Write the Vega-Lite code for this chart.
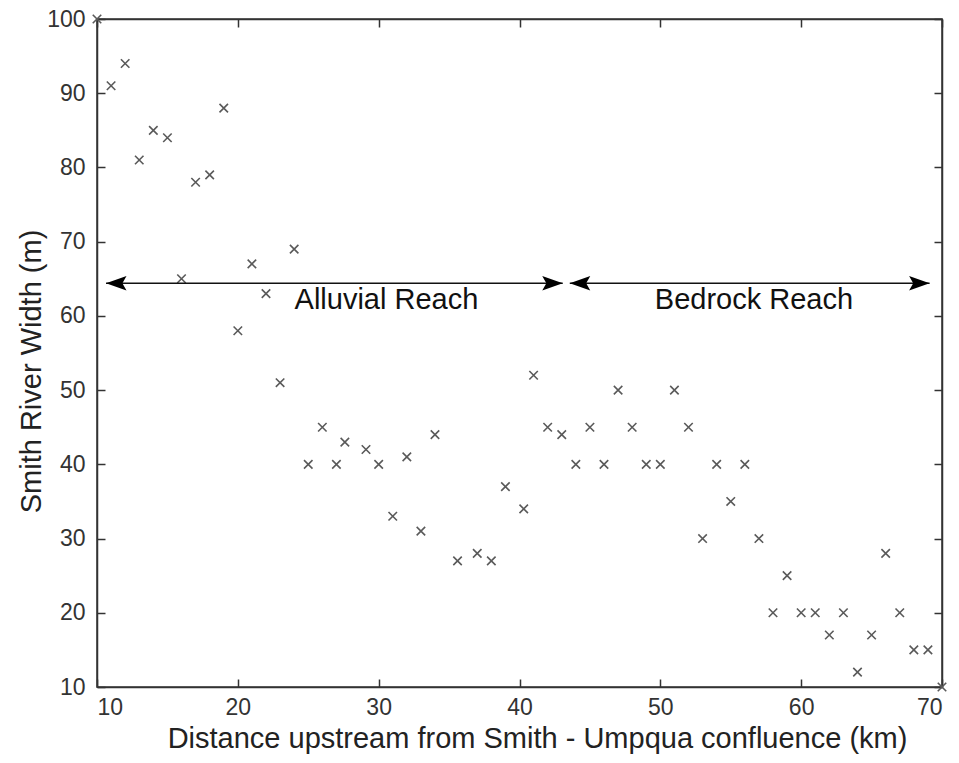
{
  "$schema": "https://vega.github.io/schema/vega-lite/v6.json",
  "width": 845,
  "height": 668,
  "autosize": {"type": "none"},
  "padding": {"left": 97, "top": 19, "right": 17, "bottom": 76},
  "background": "white",
  "config": {
    "font": "Liberation Sans",
    "view": {"stroke": "#333333", "strokeWidth": 1.5},
    "axis": {
      "grid": false,
      "domainColor": "#333333",
      "domainWidth": 1.5,
      "tickColor": "#333333",
      "tickWidth": 1.5,
      "tickSize": -8,
      "labelFont": "Liberation Sans",
      "labelFontSize": 23,
      "labelColor": "#333333",
      "titleFont": "Liberation Sans",
      "titleFontSize": 29,
      "titleFontWeight": "normal",
      "titleColor": "#222222"
    }
  },
  "datasets": {
    "pts": [
      {"d": 10, "w": 100}, {"d": 11, "w": 91}, {"d": 12, "w": 94}, {"d": 13, "w": 81},
      {"d": 14, "w": 85}, {"d": 15, "w": 84}, {"d": 16, "w": 65}, {"d": 17, "w": 78},
      {"d": 18, "w": 79}, {"d": 19, "w": 88}, {"d": 20, "w": 58}, {"d": 21, "w": 67},
      {"d": 22, "w": 63}, {"d": 23, "w": 51}, {"d": 24, "w": 69}, {"d": 25, "w": 40},
      {"d": 26, "w": 45}, {"d": 27, "w": 40}, {"d": 27.6, "w": 43}, {"d": 29.1, "w": 42},
      {"d": 30, "w": 40}, {"d": 31, "w": 33}, {"d": 32, "w": 41}, {"d": 33, "w": 31},
      {"d": 34, "w": 44}, {"d": 35.6, "w": 27}, {"d": 37, "w": 28}, {"d": 38, "w": 27},
      {"d": 39, "w": 37}, {"d": 40.3, "w": 34}, {"d": 41, "w": 52}, {"d": 42, "w": 45},
      {"d": 43, "w": 44}, {"d": 44, "w": 40}, {"d": 45, "w": 45}, {"d": 46, "w": 40},
      {"d": 47, "w": 50}, {"d": 48, "w": 45}, {"d": 49, "w": 40}, {"d": 50, "w": 40},
      {"d": 51, "w": 50}, {"d": 52, "w": 45}, {"d": 53, "w": 30}, {"d": 54, "w": 40},
      {"d": 55, "w": 35}, {"d": 56, "w": 40}, {"d": 57, "w": 30}, {"d": 58, "w": 20},
      {"d": 59, "w": 25}, {"d": 60, "w": 20}, {"d": 61, "w": 20}, {"d": 62, "w": 17},
      {"d": 63, "w": 20}, {"d": 64, "w": 12}, {"d": 65, "w": 17}, {"d": 66, "w": 28},
      {"d": 67, "w": 20}, {"d": 68, "w": 15}, {"d": 69, "w": 15}, {"d": 70, "w": 10}
    ],
    "arrows": [
      {"d": 10.64, "d2": 43.07, "w": 64.4},
      {"d": 43.57, "d2": 69.12, "w": 64.4}
    ],
    "heads": [
      {"d": 10.64, "w": 64.4, "dir": "left"},
      {"d": 43.07, "w": 64.4, "dir": "right"},
      {"d": 43.57, "w": 64.4, "dir": "left"},
      {"d": 69.12, "w": 64.4, "dir": "right"}
    ],
    "labels": [
      {"d": 30.55, "w": 60.9, "t": "Alluvial Reach"},
      {"d": 56.65, "w": 60.9, "t": "Bedrock Reach"}
    ]
  },
  "resolve": {"axis": {"x": "independent", "y": "independent"}},
  "layer": [
    {
      "data": {"name": "pts"},
      "mark": {
        "type": "point",
        "shape": "M-1,-1L1,1M-1,1L1,-1",
        "filled": false,
        "stroke": "#5a5a5a",
        "strokeWidth": 1.6,
        "size": 72,
        "opacity": 1
      },
      "encoding": {
        "x": {
          "field": "d", "type": "quantitative",
          "scale": {"domain": [10, 70], "nice": false, "zero": false},
          "axis": {
            "orient": "bottom",
            "values": [10, 20, 30, 40, 50, 60, 70],
            "labelPadding": 17,
            "title": "Distance upstream from Smith - Umpqua confluence (km)",
            "titlePadding": 5,
            "titleX": 440
          }
        },
        "y": {
          "field": "w", "type": "quantitative",
          "scale": {"domain": [10, 100], "nice": false, "zero": false},
          "axis": {
            "orient": "left",
            "values": [10, 20, 30, 40, 50, 60, 70, 80, 90, 100],
            "labelPadding": 20,
            "title": "Smith River Width (m)",
            "titlePadding": 0,
            "titleY": 352
          }
        }
      }
    },
    {
      "data": {"name": "arrows"},
      "mark": {"type": "rule", "color": "#111111", "strokeWidth": 1.6},
      "encoding": {
        "x": {
          "field": "d", "type": "quantitative",
          "axis": {"orient": "top", "values": [10, 20, 30, 40, 50, 60, 70], "labels": false, "title": null}
        },
        "x2": {"field": "d2"},
        "y": {
          "field": "w", "type": "quantitative",
          "axis": {"orient": "right", "values": [10, 20, 30, 40, 50, 60, 70, 80, 90, 100], "labels": false, "title": null}
        }
      }
    },
    {
      "data": {"name": "heads"},
      "mark": {"type": "point", "filled": true, "color": "#000000", "size": 420, "opacity": 1, "strokeWidth": 0},
      "encoding": {
        "x": {"field": "d", "type": "quantitative", "axis": null},
        "y": {"field": "w", "type": "quantitative", "axis": null},
        "shape": {
          "field": "dir", "type": "nominal",
          "scale": {"domain": ["left", "right"], "range": ["M0,0L2,-0.7L1.6,0L2,0.7Z", "M0,0L-2,-0.7L-1.6,0L-2,0.7Z"]},
          "legend": null
        }
      }
    },
    {
      "data": {"name": "labels"},
      "mark": {"type": "text", "font": "Liberation Sans", "fontSize": 29, "color": "#111111", "align": "center", "baseline": "alphabetic"},
      "encoding": {
        "x": {"field": "d", "type": "quantitative", "axis": null},
        "y": {"field": "w", "type": "quantitative", "axis": null},
        "text": {"field": "t"}
      }
    }
  ]
}
